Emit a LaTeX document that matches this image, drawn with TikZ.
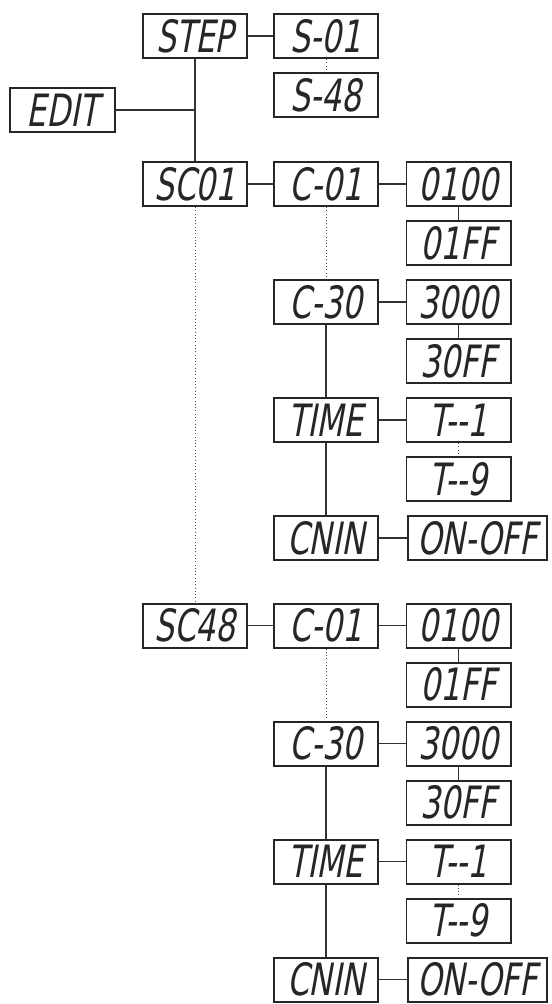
\documentclass[tikz,border=0pt]{standalone}
\usepackage{fontspec}
\newfontfamily\lcdfont[FakeSlant=0.18,FakeStretch=0.78]{DejaVu Sans Condensed}
\usetikzlibrary{calc}

\tikzset{
	lcdbox/.style={draw=black!85, line width=1.7pt, minimum width=3.12cm, minimum height=1.32cm, inner sep=0pt, text=black!85, font=\lcdfont\fontsize{38}{38}\selectfont},
	solidlink/.style={line width=0.9pt, color=black!80},
	dotlink/.style={line width=0.8pt, dotted, color=black!70}
}

\begin{document}
\begin{tikzpicture}[x=0.03cm, y=-0.03cm]
		%%%%% START %%%%%
		\useasboundingbox (0,0) rectangle (551,1004);
		
		\node[lcdbox, minimum width=3.15cm] (edit) at (62.5,110) {EDIT};
		\node[lcdbox] (step) at (195,36) {STEP};
		\node[lcdbox] (s01) at (326,36) {S-01};
		\node[lcdbox] (s48) at (326,95) {S-48};
		
		\draw[solidlink] (step) -- (s01);
		\draw[dotlink] (s01) -- (s48);
		
		\foreach \blk/\yo/\scname in {a/184/SC01, b/625.5/SC48}{
			\node[lcdbox] (sc-\blk) at (195,\yo) {\scname};
			\node[lcdbox] (c01-\blk) at (326,\yo) {C-01};
			\node[lcdbox] (lo01-\blk) at (458.5,\yo) {0100};
			\node[lcdbox] (hi01-\blk) at (458.5,{\yo+59}) {01FF};
			\node[lcdbox] (c30-\blk) at (326,{\yo+118}) {C-30};
			\node[lcdbox] (lo30-\blk) at (458.5,{\yo+118}) {3000};
			\node[lcdbox] (hi30-\blk) at (458.5,{\yo+177}) {30FF};
			\node[lcdbox] (time-\blk) at (326,{\yo+236}) {TIME};
			\node[lcdbox] (t1-\blk) at (458.5,{\yo+236}) {T-\kern0pt-1};
			\node[lcdbox] (t9-\blk) at (458.5,{\yo+295}) {T-\kern0pt-9};
			\node[lcdbox] (cnin-\blk) at (326,{\yo+354}) {CNIN};
			\node[lcdbox, minimum width=4.17cm] (onoff-\blk) at (477.5,{\yo+354}) {ON-OFF};
			
			\draw[solidlink] (sc-\blk) -- (c01-\blk);
			\draw[solidlink] (c01-\blk) -- (lo01-\blk);
			\draw[solidlink] (lo01-\blk) -- (hi01-\blk);
			\draw[dotlink] (c01-\blk) -- (c30-\blk);
			\draw[solidlink] (c30-\blk) -- (lo30-\blk);
			\draw[solidlink] (lo30-\blk) -- (hi30-\blk);
			\draw[solidlink] (c30-\blk) -- (time-\blk);
			\draw[solidlink] (time-\blk) -- (t1-\blk);
			\draw[dotlink] (t1-\blk) -- (t9-\blk);
			\draw[solidlink] (time-\blk) -- (cnin-\blk);
			\draw[solidlink] (cnin-\blk) -- (onoff-\blk);
		}
		
		\draw[solidlink] (step) -- (sc-a);
		\draw[solidlink, line width=1.3pt] (edit) -- (edit -| step);
		\draw[dotlink] (sc-a) -- (sc-b);
		
		%%%%% END %%%%%
	\end{tikzpicture}
\end{document}
